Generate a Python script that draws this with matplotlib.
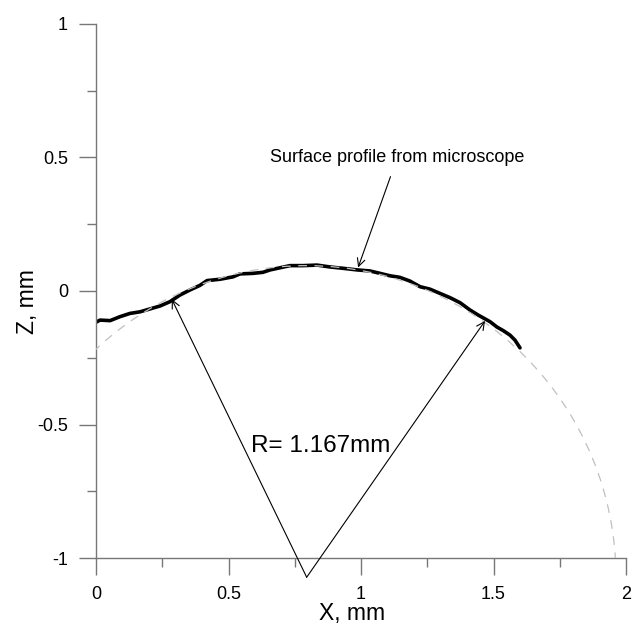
import numpy as np
import matplotlib
matplotlib.use("Agg")
import matplotlib.pyplot as plt
from matplotlib.patches import Circle
from matplotlib.ticker import MultipleLocator, FuncFormatter

plt.rcParams['font.family'] = ['Liberation Sans', 'DejaVu Sans']
plt.rcParams['axes.unicode_minus'] = False

# surface profile (mm)
x_prof = [0.000, 0.015, 0.053, 0.091, 0.128, 0.166, 0.204, 0.242, 0.279, 0.317,
          0.355, 0.392, 0.419, 0.468, 0.517, 0.543, 0.592, 0.630, 0.657, 0.732,
          0.781, 0.834, 0.883, 0.932, 0.985, 1.034, 1.072, 1.109, 1.147, 1.185,
          1.223, 1.260, 1.298, 1.336, 1.374, 1.411, 1.442, 1.487, 1.513, 1.536,
          1.562, 1.581, 1.600]
z_prof = [-0.117, -0.109, -0.111, -0.096, -0.084, -0.078, -0.067, -0.056, -0.040, -0.015,
          0.004, 0.021, 0.039, 0.044, 0.053, 0.064, 0.066, 0.070, 0.079, 0.095,
          0.095, 0.097, 0.090, 0.085, 0.079, 0.075, 0.066, 0.057, 0.051, 0.037,
          0.016, 0.007, -0.009, -0.025, -0.044, -0.071, -0.090, -0.115, -0.135, -0.148,
          -0.165, -0.184, -0.213]

# fitted circle
xc, zc = 0.795, -1.072
R = 1.167

# points on the profile where the radius arrows end
x_left, z_left = 0.286, -0.031
x_right, z_right = 1.468, -0.112

fig = plt.figure(figsize=(6.38, 6.26), dpi=100)
ax = fig.add_axes([0.1505, 0.1086, 0.8307, 0.8531])

ax.plot(x_prof, z_prof, color='black', lw=2.6, zorder=2, solid_capstyle='round')
circ = Circle((xc, zc), R, fill=False, ls=(0, (7, 6)), color='#c0c0c0', lw=0.9, zorder=3)
ax.add_patch(circ)

arrow = dict(arrowstyle='->', color='black', lw=0.8, shrinkA=0, shrinkB=0,
             mutation_scale=14)
ax.annotate('', xy=(x_left, z_left), xytext=(xc, zc), arrowprops=arrow,
            annotation_clip=False)
ax.annotate('', xy=(x_right, z_right), xytext=(xc, zc), arrowprops=arrow,
            annotation_clip=False)
ax.text(0.848, -0.58, 'R= 1.167mm', fontsize=17.5, ha='center', va='center')

ax.annotate('Surface profile from microscope', xy=(0.989, 0.088), xytext=(1.137, 0.50),
            fontsize=13, ha='center', va='center',
            arrowprops=dict(arrowstyle='->', color='black', lw=0.8, shrinkA=6,
                            shrinkB=0, mutation_scale=14))

ax.set_xlim(0, 2)
ax.set_ylim(-1, 1)
ax.spines['top'].set_visible(False)
ax.spines['right'].set_visible(False)
for s in ['left', 'bottom']:
    ax.spines[s].set_color('#777777')
    ax.spines[s].set_linewidth(1.0)

ax.xaxis.set_major_locator(MultipleLocator(0.5))
ax.xaxis.set_minor_locator(MultipleLocator(0.25))
ax.yaxis.set_major_locator(MultipleLocator(0.5))
ax.yaxis.set_minor_locator(MultipleLocator(0.25))
fmt = FuncFormatter(lambda v, p: '%g' % v)
ax.xaxis.set_major_formatter(fmt)
ax.yaxis.set_major_formatter(fmt)
ax.tick_params(which='major', direction='out', length=12.2, width=1.0, color='#777777',
               labelsize=13, pad=8)
ax.tick_params(which='minor', direction='out', length=6.5, width=1.0, color='#777777')

ax.set_xlabel('X, mm', fontsize=16.5)
ax.set_ylabel('Z, mm', fontsize=16.5)
ax.xaxis.set_label_coords(0.484, -0.082)
ax.yaxis.set_label_coords(-0.108, 0.48)

fig.savefig('out.png', dpi=100)
